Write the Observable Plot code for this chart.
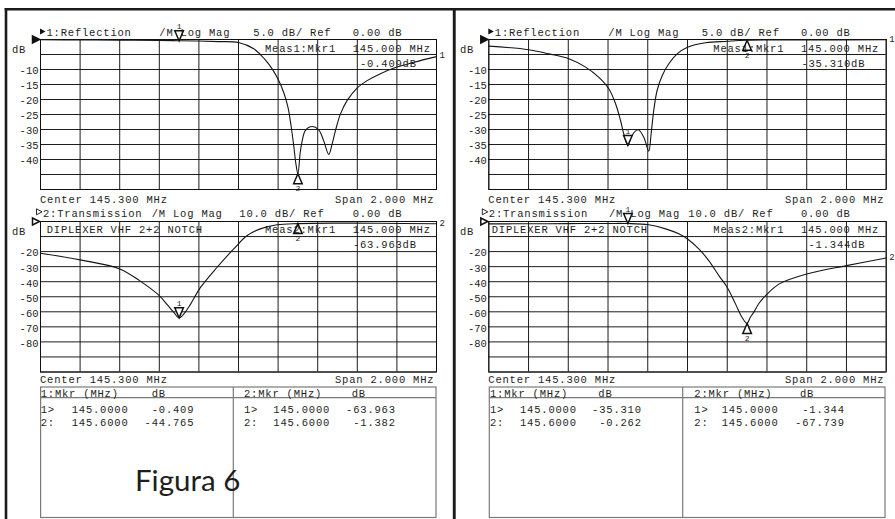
<!DOCTYPE html>
<html><head><meta charset="utf-8">
<script src="https://cdn.jsdelivr.net/npm/d3@7"></script>
<script src="https://cdn.jsdelivr.net/npm/@observablehq/plot@0.6"></script>
<style>
html,body{margin:0;padding:0;background:#fff;}
#root{position:relative;width:895px;height:519px;overflow:hidden;background:#fff;color:#222;}
.pw{position:absolute;}
#ov{position:absolute;left:0;top:0;pointer-events:none;}
</style></head><body><div id="root"></div>
<script>
// ---------- data ----------
const freqGrid = [144.3,144.5,144.7,144.9,145.1,145.3,145.5,145.7,145.9,146.1,146.3];
const reflGrid = [0,-5,-10,-15,-20,-25,-30,-35,-40,-45,-50];
const reflLabels = [-10,-15,-20,-25,-30,-35,-40];
const transGrid = [0,-10,-20,-30,-40,-50,-60,-70,-80,-90,-100];
const transLabels = [-20,-30,-40,-50,-60,-70,-80];
const markerFreq = [145.0, 145.6];

// Left screen, trace 1 (Reflection)
const reflLeftFreq = [144.3,144.5,144.7,144.9,145.0,145.1,145.2,145.3,145.377,145.43,145.47,145.503,145.53,145.55,145.566,145.58,145.59,145.6,145.612,145.622,145.638,145.672,145.705,145.73,145.756,145.773,145.79,145.815,145.849,145.9,145.95,146.017,146.1,146.185,146.3];
const reflLeftDb   = [-0.1,-0.15,-0.2,-0.3,-0.41,-0.5,-0.7,-1.0,-3.1,-6.4,-9.8,-13.7,-18,-22.6,-29,-36,-41.5,-44.8,-37.5,-33.7,-30.3,-29.0,-30.1,-33.7,-38.3,-34.8,-30.3,-24.8,-20.3,-16.1,-13.7,-11.4,-9.2,-7.6,-5.7];
// Left screen, trace 2 (Transmission)
const transLeftFreq = [144.3,144.5,144.7,144.8,144.9,144.94,144.973,145.0,145.03,145.058,145.108,145.192,145.276,145.344,145.41,145.495,145.6,145.8,146.0,146.3];
const transLeftDb   = [-21.1,-25.5,-31.5,-39.3,-49.3,-55.3,-60.4,-64.0,-60.4,-54.9,-43.8,-30.4,-18.2,-9.3,-4.9,-2.2,-1.4,-1.1,-1.2,-1.5];
// Right screen, trace 1 (Reflection)
const reflRightFreq = [144.3,144.5,144.602,144.703,144.787,144.854,144.904,144.938,144.963,144.979,145.0,145.02,145.052,145.08,145.105,145.117,145.13,145.147,145.173,145.206,145.248,145.3,145.39,145.5,145.6,145.9,146.3];
const reflRightDb   = [-2.2,-3.4,-4.8,-6.4,-9.2,-12.6,-16.4,-21.4,-27,-31.4,-35.3,-32,-30.1,-32.6,-37.2,-31.4,-23.7,-17,-12,-8.1,-4.8,-2.6,-1.1,-0.6,-0.26,-0.15,-0.1];
// Right screen, trace 2 (Transmission)
const transRightFreq = [144.3,144.5,144.7,144.9,145.0,145.105,145.19,145.256,145.3,145.357,145.407,145.458,145.5,145.542,145.575,145.6,145.615,145.633,145.66,145.693,145.76,145.9,146.1,146.3];
const transRightDb   = [-1.6,-1.5,-1.4,-1.3,-1.34,-2.2,-4.9,-8.2,-11.6,-18.2,-26,-36,-43.8,-54.9,-63.8,-67.7,-64,-60.4,-54.3,-49.3,-41.6,-34.9,-29.3,-24.2];

// Marker readouts
const mkReflLeft = [-0.409, -44.765];
const mkTransLeft = [-63.963, -1.382];
const mkReflRight = [-35.310, -0.262];
const mkTransRight = [-1.344, -67.739];

// ---------- drawing ----------
const mono = '"Liberation Mono","DejaVu Sans Mono",monospace';
const ink = "#1e1e1e";
const downTri = {draw(c){c.moveTo(0,0);c.lineTo(-4.3,-10);c.lineTo(4.3,-10);c.closePath();}};
const upTri = {draw(c){c.moveTo(0,0);c.lineTo(-4.3,10);c.lineTo(4.3,10);c.closePath();}};
const refTri = {draw(c){c.moveTo(0,0);c.lineTo(-7,-3.5);c.lineTo(-7,3.5);c.closePath();}};

const root = document.getElementById("root");

function vna(cfg){
  const trace = cfg.freq.map((f,i)=>({f, db: cfg.db[i]}));
  const mk = markerFreq.map((f,i)=>({f, db: cfg.mkDb[i], n: String(i+1)}));
  const last = trace[trace.length-1];
  const svg = Plot.plot({
    width: cfg.w, height: cfg.h,
    marginLeft: cfg.ml, marginRight: cfg.mr, marginTop: 15, marginBottom: 6,
    x:{domain:[144.3,146.3], axis:null},
    y:{domain:[cfg.grid[cfg.grid.length-1], 0], axis:null},
    style:{background:"transparent", color:ink, overflow:"visible"},
    marks:[
      Plot.gridX(freqGrid, {stroke:"#111", strokeOpacity:0.95, strokeWidth:1}),
      Plot.gridY(cfg.grid, {stroke:"#111", strokeOpacity:0.95, strokeWidth:1}),
      Plot.axisY(cfg.labels, {label:null, tickSize:0, tickPadding:2, tickFormat:d=>String(d), fontFamily:mono, fontSize:10.5, dy:1.5}),
      Plot.frame({stroke:"#111"}),
      Plot.line(trace, {x:"f", y:"db", curve:"catmull-rom", stroke:"#151515", strokeWidth:1.1}),
      Plot.dot([{f:144.3, db:0}], {x:"f", y:"db", symbol:refTri, fill:cfg.refFill, stroke:"#111", dx:-1}),
      Plot.dot([mk[0]], {x:"f", y:"db", symbol:downTri, fill:"white", stroke:"#111"}),
      Plot.dot([mk[1]], {x:"f", y:"db", symbol:upTri, fill:"white", stroke:"#111"}),
      Plot.text([mk[0]], {x:"f", y:"db", text:"n", dy:-14, fontSize:8, fontFamily:mono}),
      Plot.text([mk[1]], {x:"f", y:"db", text:"n", dy:15, fontSize:8, fontFamily:mono}),
      Plot.text([last], {x:"f", y:"db", text:()=>cfg.traceNo, dx:3, dy:-1, textAnchor:"start", fontSize:9, fontFamily:mono})
    ]
  });
  const wrap = document.createElement("div");
  wrap.className = "pw";
  wrap.style.left = cfg.left + "px"; wrap.style.top = cfg.top + "px";
  wrap.style.width = cfg.w + "px"; wrap.style.height = cfg.h + "px";
  wrap.appendChild(svg);
  root.appendChild(wrap);
}

vna({freq:reflLeftFreq, db:reflLeftDb, mkDb:mkReflLeft, grid:reflGrid, labels:reflLabels, refFill:"#111", traceNo:"1",
     left:0, top:24, w:450, h:171, ml:40, mr:14});
vna({freq:transLeftFreq, db:transLeftDb, mkDb:mkTransLeft, grid:transGrid, labels:transLabels, refFill:"white", traceNo:"2",
     left:0, top:206, w:450, h:171.5, ml:40, mr:14});
vna({freq:reflRightFreq, db:reflRightDb, mkDb:mkReflRight, grid:reflGrid, labels:reflLabels, refFill:"#111", traceNo:"1",
     left:455, top:24, w:440, h:171, ml:33.3, mr:9.3});
vna({freq:transRightFreq, db:transRightDb, mkDb:mkTransRight, grid:transGrid, labels:transLabels, refFill:"white", traceNo:"2",
     left:455, top:206, w:440, h:171.5, ml:33.3, mr:9.3});

// ---------- overlay: frame borders, header texts, tables ----------
const ov = d3.select(root).append("svg").attr("id","ov").attr("width",895).attr("height",519);
const PITCH = 7.1;
function t(x, y, s, o={}){
  const el = ov.append("text").attr("x", x).attr("y", y).text(s)
    .attr("font-family", o.ff || mono).attr("font-size", o.fs || 10.5)
    .attr("fill", ink).attr("letter-spacing", o.ls == null ? 0.8 : o.ls)
    .style("white-space","pre");
  return el;
}
function tr(xr, y, s){ return t(xr - s.length*PITCH + 0.8, y, s); }
const fmt3 = v => v.toFixed(3);
const fmtF = v => v.toFixed(4);

// borders
ov.append("rect").attr("x",4.7).attr("y",8).attr("width",890.3).attr("height",2.5).attr("fill","#1a1a1a");
ov.append("rect").attr("x",4.7).attr("y",8).attr("width",2.6).attr("height",511).attr("fill","#1a1a1a");
ov.append("rect").attr("x",452.8).attr("y",8).attr("width",2.9).attr("height",511).attr("fill","#1a1a1a");

function panel(p){
  // header triangles
  ov.append("path").attr("d",`M${p.a},28.5L${p.a},34.5L${p.a+5.5},31.5Z`).attr("fill","#111");
  ov.append("path").attr("d",`M${p.b},208.8L${p.b},214.8L${p.b+5.5},211.8Z`).attr("fill","white").attr("stroke","#111").attr("stroke-width",0.9);
  t(p.a+6.5, 36, "1:Reflection");
  t(p.h1[0], 36, "/M Log Mag");
  t(p.h1[1], 36, "5.0 dB/ Ref");
  t(p.h1[2], 36, "0.00 dB");
  t(p.db, 52.5, "dB");
  t(p.meas, 51.5, "Meas1:Mkr1");
  t(p.h1[2], 51.5, "145.000 MHz");
  tr(p.rv, 66.5, fmt3(p.mk1[0]) + "dB");
  t(p.c, 203.3, "Center 145.300 MHz");
  t(p.span, 203.3, "Span 2.000 MHz");
  t(p.b+6.5, 216.5, "2:Transmission");
  t(p.h2[0], 216.5, "/M Log Mag");
  t(p.h2[1], 216.5, "10.0 dB/ Ref");
  t(p.h2[2], 216.5, "0.00 dB");
  t(p.db, 235, "dB");
  t(p.dip, 233.3, "DIPLEXER VHF 2+2 NOTCH");
  t(p.meas, 233.3, "Meas2:Mkr1");
  t(p.h2[2], 233.3, "145.000 MHz");
  tr(p.rv, 247.7, fmt3(p.mk2[0]) + "dB");
  t(p.c, 383.3, "Center 145.300 MHz");
  t(p.span, 383.3, "Span 2.000 MHz");
  // table
  const g = "#7a7a7a";
  ov.append("rect").attr("x",p.tb[0]).attr("y",387).attr("width",p.tb[2]-p.tb[0]).attr("height",130.5)
    .attr("fill","none").attr("stroke",g).attr("stroke-width",1.2);
  ov.append("line").attr("x1",p.tb[0]).attr("x2",p.tb[2]).attr("y1",397.7).attr("y2",397.7).attr("stroke",g).attr("stroke-width",1.2);
  ov.append("line").attr("x1",p.tb[1]).attr("x2",p.tb[1]).attr("y1",387).attr("y2",517.5).attr("stroke",g).attr("stroke-width",1.2);
  const cols = [[p.c1, p.mk1, "1"], [p.c2, p.mk2, "2"]];
  for (const [c, mk, n] of cols){
    t(c[0], 397, n + ":Mkr (MHz)");
    t(c[3], 397, "dB");
    markerFreq.forEach((f,i)=>{
      const y = i === 0 ? 413.3 : 426;
      t(c[0], y, i === 0 ? "1>" : "2:");
      t(c[1], y, fmtF(f));
      tr(c[2], y, fmt3(mk[i]));
    });
  }
}

panel({a:40, b:36.5, h1:[159.3,253.3,352.7], h2:[151.7,239.3,352.7], db:12, meas:265, rv:416,
       c:40, span:335, dip:46.7, tb:[40.6,233.3,436], mk1:mkReflLeft, mk2:mkTransLeft,
       c1:[40.7,71.7,193.5,151.7], c2:[244,273.3,395,351.7]});
panel({a:488.3, b:482.3, h1:[608.3,701.7,801], h2:[609,688.3,801], db:460, meas:713.3, rv:864.5,
       c:488.3, span:785, dip:491.7, tb:[489.3,682.7,885], mk1:mkReflRight, mk2:mkTransRight,
       c1:[490,520,641,598.3], c2:[694.3,721.7,844,800]});

t(135, 490.7, "Figura 6", {ff:'Lato,"Noto Sans",sans-serif', fs:29.5, ls:0}).attr("font-weight", 400);
</script>
</body></html>
